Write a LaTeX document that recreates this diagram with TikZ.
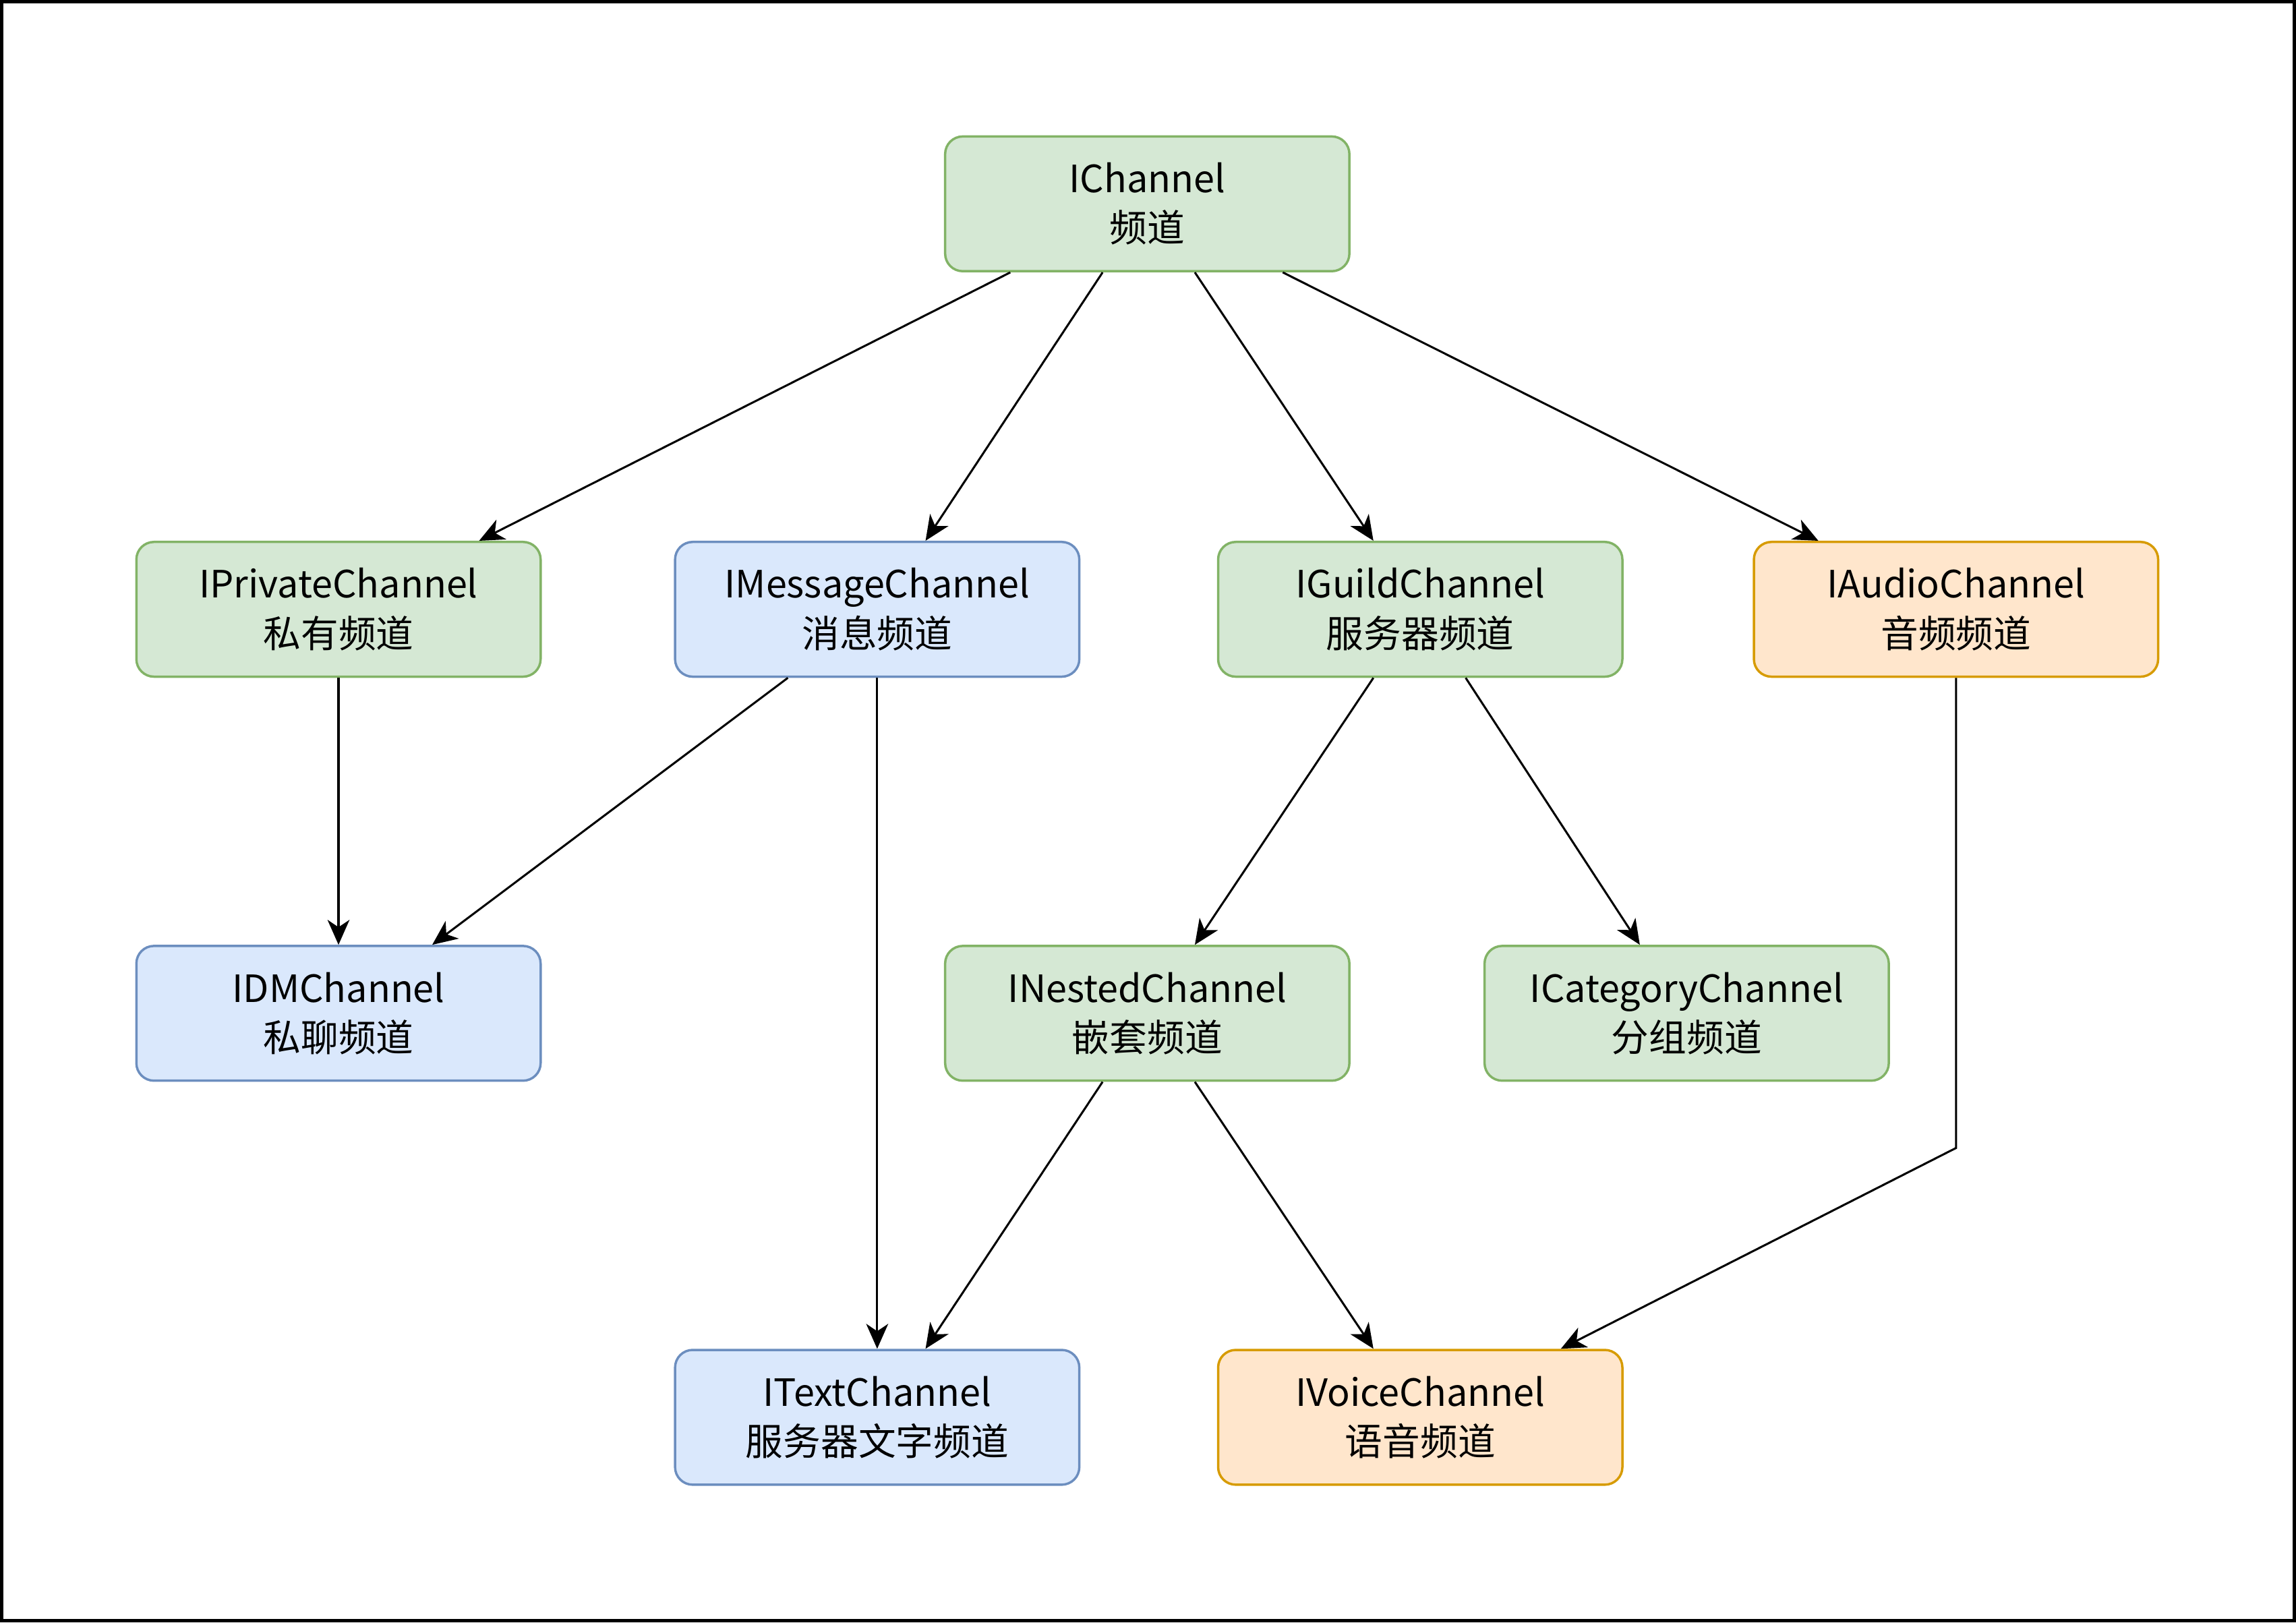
\documentclass[tikz,border=0pt]{standalone}
\usepackage{fontspec}
\setmainfont{Noto Sans CJK SC}
\usetikzlibrary{arrows.meta}
\begin{document}
\begin{tikzpicture}[x=0.01cm,y=-0.01cm,
  box/.style={draw,rounded corners=0.12cm,minimum width=2.76cm,minimum height=0.92cm,line width=0.016cm,align=center,font=\fontsize{7.3pt}{9.6pt}\selectfont,inner sep=0pt},
  gr/.style={box,fill={rgb,255:red,213;green,232;blue,212},draw={rgb,255:red,130;green,179;blue,102}},
  bl/.style={box,fill={rgb,255:red,218;green,232;blue,252},draw={rgb,255:red,108;green,142;blue,191}},
  og/.style={box,fill={rgb,255:red,255;green,230;blue,204},draw={rgb,255:red,215;green,155;blue,0}},
  ar/.style={-{Stealth[length=0.17cm,width=0.15cm,inset=0.05cm]},line width=0.014cm}]
\draw[line width=0.025cm,fill=white] (1,1) rectangle (1567,1107);
\node[gr] (ch) at (783.5,139) {IChannel\\频道};
\node[gr] (pr) at (231,416) {IPrivateChannel\\私有频道};
\node[bl] (me) at (599,416) {IMessageChannel\\消息频道};
\node[gr] (gu) at (970,416) {IGuildChannel\\服务器频道};
\node[og] (au) at (1336,416) {IAudioChannel\\音频频道};
\node[bl] (dm) at (231,692) {IDMChannel\\私聊频道};
\node[gr] (ne) at (783.5,692) {INestedChannel\\嵌套频道};
\node[gr] (ca) at (1152,692) {ICategoryChannel\\分组频道};
\node[bl] (te) at (599,968) {ITextChannel\\服务器文字频道};
\node[og] (vo) at (970,968) {IVoiceChannel\\语音频道};
\coordinate (bend) at (1336,784);
\draw[ar] ([xshift=-0.935cm]ch.south) -- ([xshift=0.96cm]pr.north);
\draw[ar] ([xshift=-0.305cm]ch.south) -- ([xshift=0.33cm]me.north);
\draw[ar] ([xshift=0.325cm]ch.south) -- ([xshift=-0.32cm]gu.north);
\draw[ar] ([xshift=0.925cm]ch.south) -- ([xshift=-0.94cm]au.north);
\draw[ar] (pr.south) -- (dm.north);
\draw[ar] ([xshift=-0.61cm]me.south) -- ([xshift=0.64cm]dm.north);
\draw[ar] (me.south) -- (te.north);
\draw[ar] ([xshift=-0.32cm]gu.south) -- ([xshift=0.325cm]ne.north);
\draw[ar] ([xshift=0.31cm]gu.south) -- ([xshift=-0.32cm]ca.north);
\draw[ar] ([xshift=-0.305cm]ne.south) -- ([xshift=0.33cm]te.north);
\draw[ar] ([xshift=0.325cm]ne.south) -- ([xshift=-0.32cm]vo.north);
\draw[ar] (au.south) -- (bend) -- ([xshift=0.96cm]vo.north);
\end{tikzpicture}
\end{document}
